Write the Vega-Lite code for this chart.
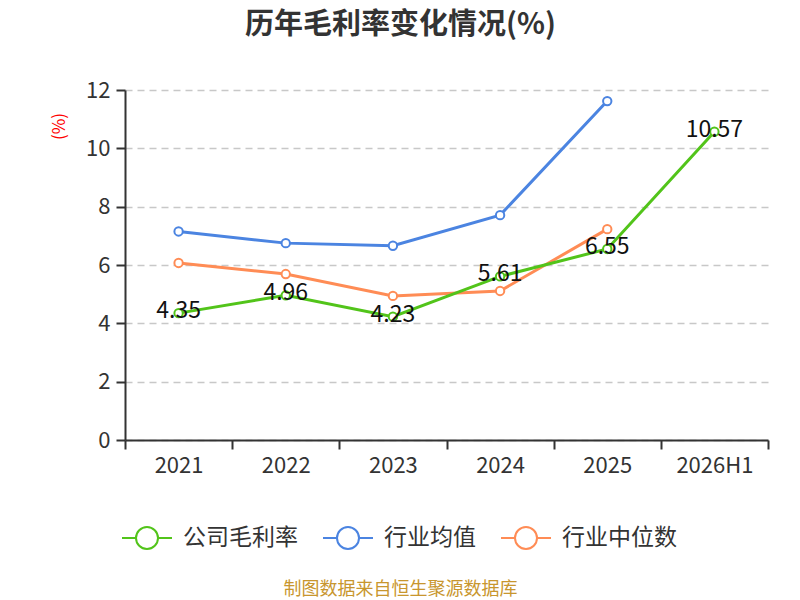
{
  "$schema": "https://vega.github.io/schema/vega-lite/v6.json",
  "width": 643,
  "height": 350,
  "autosize": {"type": "none"},
  "padding": {"left": 125, "top": 90, "right": 32, "bottom": 160},
  "background": "white",
  "title": {
    "text": "历年毛利率变化情况(%)",
    "fontSize": 29,
    "fontWeight": "bold",
    "color": "#333333",
    "font": "Noto Sans CJK SC",
    "anchor": "middle",
    "dx": -46,
    "offset": 39
  },
  "config": {
    "font": "Noto Sans CJK SC",
    "view": {"stroke": null}
  },
  "data": {
    "values": [
      {"year": "2021", "series": "行业均值", "value": 7.15},
      {"year": "2022", "series": "行业均值", "value": 6.75},
      {"year": "2023", "series": "行业均值", "value": 6.66},
      {"year": "2024", "series": "行业均值", "value": 7.71},
      {"year": "2025", "series": "行业均值", "value": 11.62},
      {"year": "2021", "series": "行业中位数", "value": 6.07},
      {"year": "2022", "series": "行业中位数", "value": 5.69},
      {"year": "2023", "series": "行业中位数", "value": 4.94},
      {"year": "2024", "series": "行业中位数", "value": 5.11},
      {"year": "2025", "series": "行业中位数", "value": 7.23},
      {"year": "2021", "series": "公司毛利率", "value": 4.35},
      {"year": "2022", "series": "公司毛利率", "value": 4.96},
      {"year": "2023", "series": "公司毛利率", "value": 4.23},
      {"year": "2024", "series": "公司毛利率", "value": 5.61},
      {"year": "2025", "series": "公司毛利率", "value": 6.55},
      {"year": "2026H1", "series": "公司毛利率", "value": 10.57}
    ]
  },
  "encoding": {
    "x": {
      "field": "year",
      "type": "ordinal",
      "scale": {"domain": ["2021", "2022", "2023", "2024", "2025", "2026H1"], "paddingInner": 0, "paddingOuter": 0},
      "axis": {
        "title": "制图数据来自恒生聚源数据库",
        "titleColor": "#c8962e",
        "titleFontSize": 18,
        "titleFontWeight": "normal",
        "titleX": 275,
        "titleY": 154,
        "titleAnchor": "middle",
        "titleBaseline": "alphabetic",
        "labelAngle": 0,
        "labelFontSize": 22,
        "labelColor": "#333333",
        "labelPadding": 6,
        "domainColor": "#333333",
        "domainWidth": 2,
        "tickColor": "#333333",
        "tickWidth": 2,
        "tickSize": 9,
        "tickBand": "extent",
        "grid": false
      }
    },
    "y": {
      "field": "value",
      "type": "quantitative",
      "scale": {"domain": [0, 12], "nice": false},
      "axis": {
        "values": [0, 2, 4, 6, 8, 10, 12],
        "title": "(%)",
        "titleColor": "#ff0000",
        "titleFontSize": 17,
        "titleFontWeight": "normal",
        "titleX": -57,
        "titleY": 36,
        "titleAnchor": "middle",
        "labelFontSize": 22,
        "labelColor": "#333333",
        "labelPadding": 6,
        "domainColor": "#333333",
        "domainWidth": 2,
        "tickColor": "#333333",
        "tickWidth": 2,
        "tickSize": 9,
        "grid": true,
        "gridColor": "#c8c8c8",
        "gridDash": [7, 5],
        "gridWidth": 1.5
      }
    },
    "color": {
      "field": "series",
      "type": "nominal",
      "scale": {
        "domain": ["公司毛利率", "行业均值", "行业中位数"],
        "range": ["#52c41a", "#4b84e1", "#ff8c55"]
      },
      "legend": {
        "title": null,
        "orient": "none",
        "direction": "horizontal",
        "legendX": -4,
        "legendY": 422,
        "symbolType": "M-1,0L-0.44,0M0.44,0L1,0M-0.44,0A0.44,0.44,0,1,1,0.44,0A0.44,0.44,0,1,1,-0.44,0",
        "symbolSize": 2500,
        "symbolStrokeWidth": 2,
        "labelFontSize": 23,
        "labelColor": "#333333",
        "labelOffset": 10,
        "columnPadding": 21,
        "encode": {
          "symbols": {
            "update": {
              "fill": {"value": "white"},
              "stroke": {"scale": "color", "field": "value"},
              "strokeWidth": {"value": 2}
            }
          }
        }
      }
    }
  },
  "layer": [
    {
      "mark": {"type": "line", "strokeWidth": 3}
    },
    {
      "mark": {"type": "point", "filled": false, "fill": "white", "size": 70, "strokeWidth": 2, "opacity": 1}
    },
    {
      "transform": [{"filter": "datum.series === '公司毛利率'"}],
      "mark": {"type": "text", "fontSize": 23, "baseline": "middle", "dy": -2},
      "encoding": {
        "text": {"field": "value", "type": "quantitative", "format": ".2f"},
        "color": {"value": "#111111"}
      }
    }
  ]
}
